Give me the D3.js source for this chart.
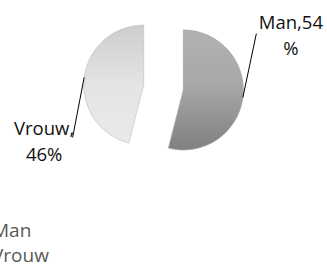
<!DOCTYPE html>
<html>
<head>
<meta charset="utf-8">
<script src="https://cdn.jsdelivr.net/npm/d3@7"></script>
<style>
  html, body { margin: 0; padding: 0; background: #fff; overflow: hidden; }
  svg { display: block; }
</style>
</head>
<body>
<svg id="chart"></svg>
<script>
// data
var categories = ["Man", "Vrouw"];
var values = [54, 46];
var labelLines = [["Man,54", "%"], ["Vrouw,", "46%"]];

var width = 327, height = 267;
var cx = 163.5, cy = 87.5, radius = 60, explode = 20;

var svg = d3.select("#chart")
  .attr("width", width)
  .attr("height", height);

var defs = svg.append("defs");
// gradients for the two slices
var gradStops = [
  [["0%", "#b2b2b2"], ["45%", "#a8a8a8"], ["100%", "#808080"]],
  [["0%", "#cdcdcd"], ["50%", "#e4e4e4"], ["100%", "#eaeaea"]]
];
gradStops.forEach(function (stops, i) {
  var g = defs.append("linearGradient")
    .attr("id", "grad" + i)
    .attr("x1", 0).attr("y1", 0).attr("x2", 0).attr("y2", 1);
  stops.forEach(function (s) {
    g.append("stop").attr("offset", s[0]).attr("stop-color", s[1]);
  });
});

var pie = d3.pie().sort(null).value(function (d) { return d; });
var arcs = pie(values);
var arc = d3.arc().innerRadius(0).outerRadius(radius);

function offset(d, r) {
  var a = (d.startAngle + d.endAngle) / 2;
  return [Math.sin(a) * r, -Math.cos(a) * r];
}

var pieG = svg.append("g").attr("transform", "translate(" + cx + "," + cy + ")");

pieG.selectAll("path.slice")
  .data(arcs)
  .enter().append("path")
  .attr("class", "slice")
  .attr("transform", function (d) {
    var o = offset(d, explode);
    return "translate(" + o[0] + "," + o[1] + ")";
  })
  .attr("d", arc)
  .style("fill", function (d, i) { return "url(#grad" + i + ")"; })
  .style("stroke", function (d, i) { return i == 0 ? "#a4a4a4" : "#c4c4c4"; })
  .style("stroke-width", 0.7);

// label layout: text centre and leader start, relative to the slice's outer point
var labelPos = [
  { tx: 48, ty: -69, lx: 13.5, ly: -64 },
  { tx: -40, ty: 58, lx: -11.5, ly: 60 }
];

arcs.forEach(function (d, i) {
  var o = offset(d, explode + radius);
  var p = labelPos[i];
  pieG.append("line")
    .attr("x1", o[0]).attr("y1", o[1])
    .attr("x2", o[0] + p.lx).attr("y2", o[1] + p.ly)
    .style("stroke", "#000")
    .style("stroke-width", 1);
  var t = pieG.append("text")
    .attr("x", o[0] + p.tx)
    .attr("y", o[1] + p.ty)
    .attr("text-anchor", "middle")
    .style("font-family", "'Open Sans', sans-serif")
    .style("font-size", "18.5px")
    .style("fill", "#111");
  labelLines[i].forEach(function (s, j) {
    t.append("tspan")
      .attr("x", o[0] + p.tx)
      .attr("dy", j == 0 ? 0 : 26)
      .text(s);
  });
});

// legend (partly cut off at the left edge, as in the original)
var legend = svg.append("g").attr("transform", "translate(-8,237)");
legend.selectAll("text")
  .data(categories)
  .enter().append("text")
  .attr("x", 0)
  .attr("y", function (d, i) { return i * 24.5; })
  .style("font-family", "'Open Sans', sans-serif")
  .style("font-size", "19px")
  .style("fill", "#595959")
  .text(function (d) { return d; });
</script>
</body>
</html>
